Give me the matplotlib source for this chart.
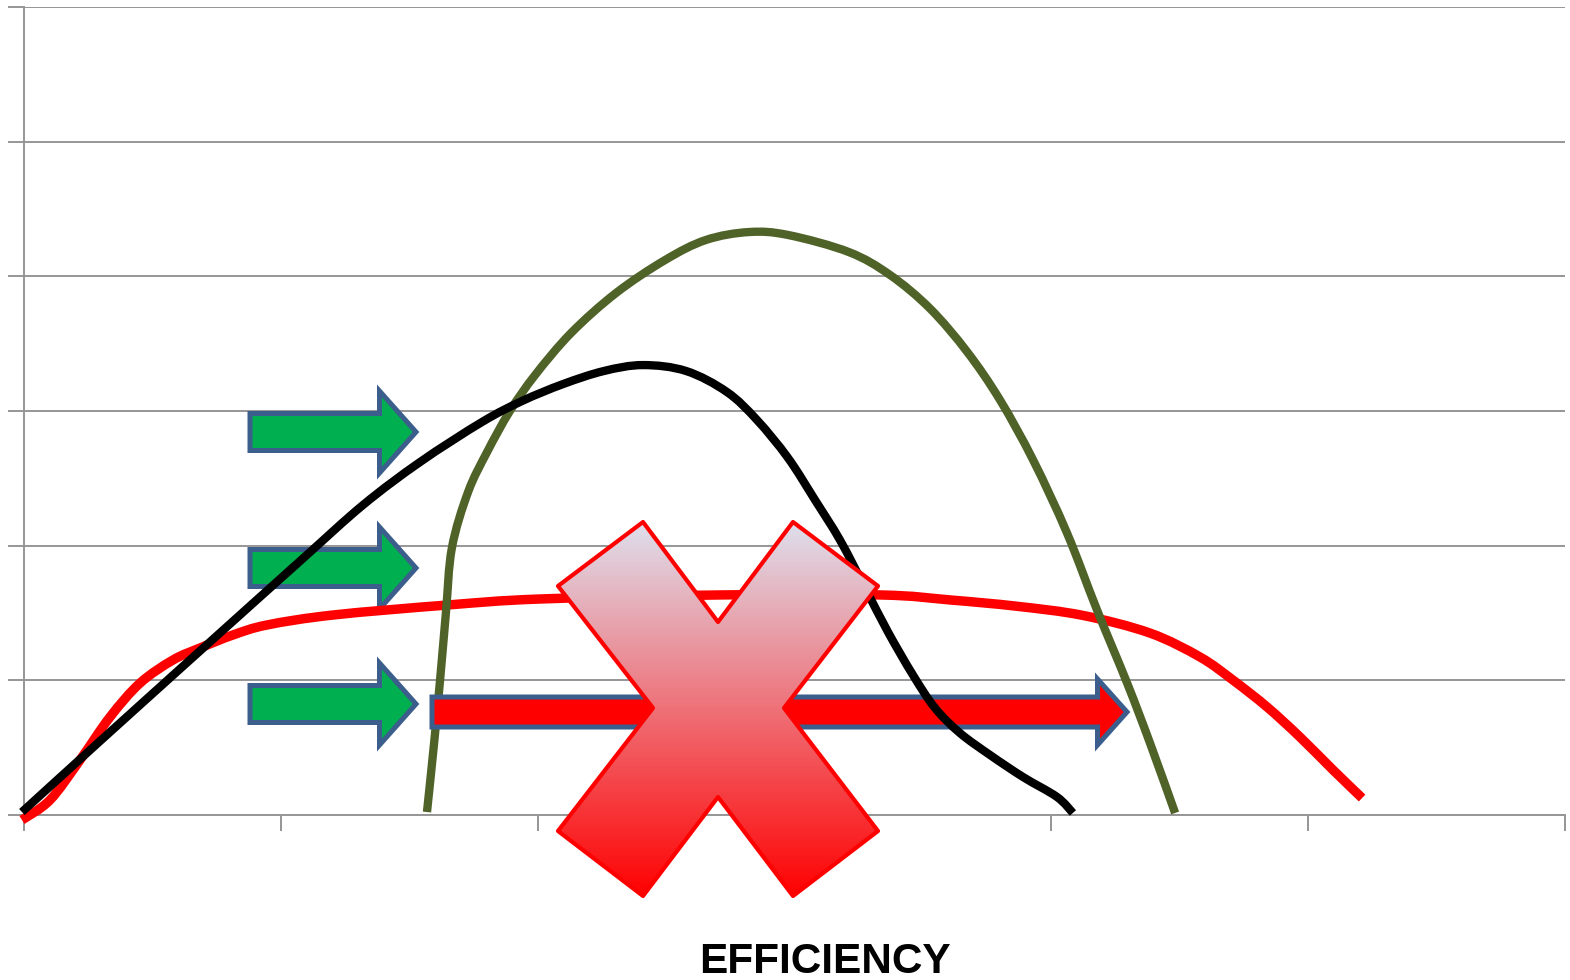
import numpy as np
import matplotlib
matplotlib.use("Agg")
import matplotlib.pyplot as plt
from matplotlib.patches import Polygon, PathPatch
from matplotlib.path import Path
from matplotlib.transforms import Affine2D

# ---- data (axis units 0..6) ----
red_x = [-0.008, 0.101, 0.218, 0.335, 0.452, 0.580, 0.685, 0.814, 0.946, 1.203, 1.647,
         2.009, 2.710, 3.333, 3.605, 3.866, 4.123, 4.384, 4.579, 4.707, 4.840, 4.968,
         5.097, 5.210]
red_y = [-0.037, 0.111, 0.408, 0.728, 0.980, 1.151, 1.240, 1.337, 1.411, 1.485, 1.559,
         1.604, 1.634, 1.634, 1.597, 1.550, 1.482, 1.351, 1.173, 1.002, 0.802, 0.579,
         0.334, 0.126]

black_x = [-0.008, 0.296, 0.685, 1.075, 1.320, 1.542, 1.783, 1.939, 2.099, 2.258, 2.410,
           2.578, 2.737, 2.854, 2.975, 3.080, 3.177, 3.275, 3.364, 3.461, 3.547, 3.644,
           3.761, 3.890, 4.022, 4.084]
black_y = [0.022, 0.549, 1.218, 1.886, 2.302, 2.621, 2.918, 3.074, 3.200, 3.297, 3.341,
           3.297, 3.141, 2.933, 2.651, 2.339, 2.042, 1.686, 1.359, 1.040, 0.795, 0.609,
           0.446, 0.282, 0.134, 0.015]

olive_x = [1.569, 1.596, 1.620, 1.643, 1.666, 1.729, 1.803, 1.892, 1.990, 2.130, 2.305,
           2.496, 2.655, 2.823, 2.975, 3.212, 3.372, 3.528, 3.672, 3.800, 3.929, 4.061,
           4.178, 4.295, 4.384, 4.482]
olive_y = [0.022, 0.520, 1.002, 1.507, 1.983, 2.398, 2.695, 3.000, 3.267, 3.579, 3.876,
           4.121, 4.270, 4.329, 4.307, 4.180, 4.010, 3.760, 3.440, 3.082, 2.636, 2.094,
           1.522, 0.980, 0.535, 0.015]

xticks = [0, 1, 2, 3, 4, 5, 6]
yticks = [0, 1, 2, 3, 4, 5, 6]
xlabel = "EFFICIENCY"

# ---- figure ----
W, H = 1570, 980
fig = plt.figure(figsize=(W / 100, H / 100), dpi=100)
ax = fig.add_axes([24 / W, (H - 815) / H, (1565 - 24) / W, (815 - 7) / H])
pix = Affine2D().scale(1 / W, -1 / H).translate(0, 1) + fig.transFigure

grid_c = "#969696"
ax.set_axisbelow(True)
ax.yaxis.grid(True, color=grid_c, lw=1.4)
ax.set_xticks(xticks)
ax.set_yticks(yticks)
ax.tick_params(direction="out", length=11.5, width=1.4, color=grid_c,
               labelbottom=False, labelleft=False)
for s in ["top", "right"]:
    ax.spines[s].set_visible(False)
for s in ["left", "bottom"]:
    ax.spines[s].set_color(grid_c)
    ax.spines[s].set_linewidth(1.4)


def smooth_curve(xs, ys, color, lw, z):
    """Draw a smooth (Catmull-Rom style Bezier) line through the given points."""
    P = np.column_stack([xs, ys]).astype(float)
    n = len(P)
    verts = [P[0]]
    codes = [Path.MOVETO]
    for i in range(n - 1):
        p0 = P[i - 1] if i > 0 else P[i]
        p1 = P[i]
        p2 = P[i + 1]
        p3 = P[i + 2] if i + 2 < n else P[i + 1]
        verts += [p1 + (p2 - p0) / 6.0, p2 - (p3 - p1) / 6.0, p2]
        codes += [Path.CURVE4] * 3
    pp = PathPatch(Path(verts, codes), facecolor="none", edgecolor=color, lw=lw,
                   capstyle="butt", joinstyle="round", clip_on=False, zorder=z)
    ax.add_patch(pp)


def arrow_poly(x0, x_head, x_tip, yc, shaft_h, head_h):
    return [(x0, yc - shaft_h), (x_head, yc - shaft_h), (x_head, yc - head_h),
            (x_tip, yc), (x_head, yc + head_h), (x_head, yc + shaft_h),
            (x0, yc + shaft_h)]


edge_c = "#3b5e8c"
for yc in [432, 568, 704]:
    p = Polygon(arrow_poly(250, 379.5, 416, yc, 18.5, 41), closed=True,
                facecolor="#00b050", edgecolor=edge_c, lw=3.6,
                transform=pix, clip_on=False, zorder=2, joinstyle="miter")
    ax.add_patch(p)

# curves
smooth_curve(red_x, red_y, "#ff0000", 6.8, 3)
smooth_curve(olive_x, olive_y, "#4f6228", 6.0, 4)

p = Polygon(arrow_poly(432, 1097.5, 1127, 712, 15, 33), closed=True,
            facecolor="#ff0000", edgecolor=edge_c, lw=3.6,
            transform=pix, clip_on=False, zorder=5, joinstyle="miter")
ax.add_patch(p)

smooth_curve(black_x, black_y, "#000000", 6.0, 6)

ax.set_xlim(0, 6)
ax.set_ylim(0, 6)

# ---- red X with gradient (overlay) ----
ax2 = fig.add_axes([0, 0, 1, 1], zorder=10)
ax2.patch.set_alpha(0)
ax2.axis("off")
xv = [(643, 522), (718, 622), (793, 522), (878, 586), (784, 708), (878, 831),
      (793, 896), (718, 797), (643, 896), (558, 831), (653, 708), (558, 586)]
top_c = np.array([222, 226, 240]) / 255
bot_c = np.array([255, 0, 0]) / 255
t = np.linspace(0, 1, 256)[:, None, None]
grad = top_c[None, None, :] * (1 - t) + bot_c[None, None, :] * t
im = ax2.imshow(grad, extent=(555, 882, 899, 519), origin="upper",
                aspect="auto", interpolation="bilinear")
xpoly = Polygon(xv, closed=True, facecolor="none", edgecolor="#ff0000", lw=3,
                joinstyle="round")
ax2.add_patch(xpoly)
im.set_clip_path(xpoly)
ax2.set_xlim(0, W)
ax2.set_ylim(H, 0)

fig.text(825 / W, 1 - 973 / H, xlabel, ha="center", va="baseline",
         fontsize=30.5, fontweight="bold", family=["Liberation Sans", "DejaVu Sans"])

fig.savefig("out.png", dpi=100)
